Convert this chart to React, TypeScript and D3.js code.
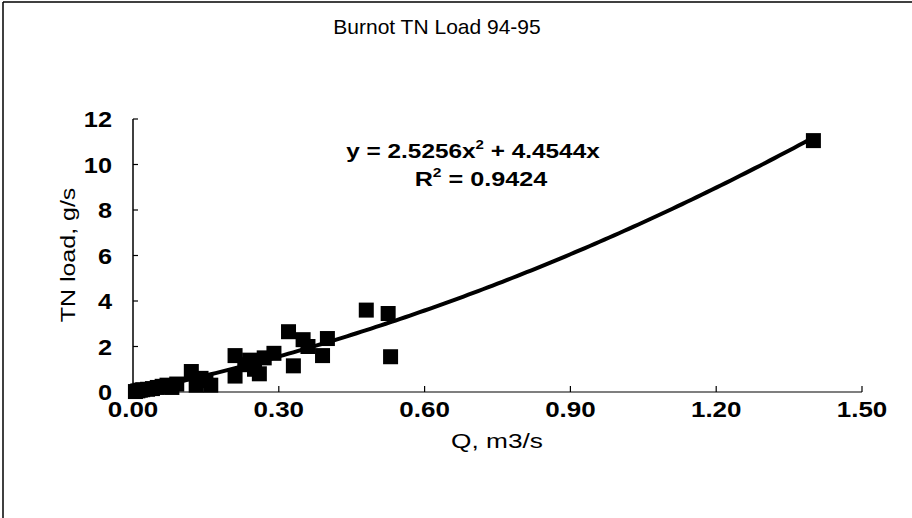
import React from "react";
import * as d3 from "d3";

const qValues = [0.005, 0.01, 0.015, 0.02, 0.03, 0.04, 0.05, 0.06, 0.07, 0.08, 0.09,
  0.12, 0.13, 0.14, 0.15, 0.16, 0.21, 0.21, 0.23, 0.24, 0.25, 0.26, 0.27, 0.29,
  0.32, 0.33, 0.35, 0.36, 0.39, 0.40, 0.48, 0.525, 0.53, 1.40];
const tnLoad = [0.02, 0.05, 0.08, 0.1, 0.12, 0.15, 0.2, 0.25, 0.3, 0.2, 0.35,
  0.9, 0.3, 0.6, 0.5, 0.3, 1.6, 0.7, 1.2, 1.4, 1.0, 0.8, 1.5, 1.7,
  2.65, 1.15, 2.3, 2.0, 1.6, 2.35, 3.6, 3.45, 1.55, 11.05];
const xTicks = [0, 0.3, 0.6, 0.9, 1.2, 1.5];
const yTicks = [0, 2, 4, 6, 8, 10, 12];
const coefA = 2.5256;
const coefB = 4.4544;
const title = "Burnot TN Load 94-95";
const xLabel = "Q, m3/s";
const yLabel = "TN load, g/s";

const font = "'Liberation Sans', Arial, sans-serif";

function SText(props: {
  x: number; y: number; sx?: number; rot?: number; anchor?: string;
  size: number; bold?: boolean; children: React.ReactNode;
}) {
  const { x, y, sx = 1, rot = 0, anchor = "middle", size, bold, children } = props;
  return (
    <text
      transform={`translate(${x},${y}) rotate(${rot}) scale(${sx},1)`}
      textAnchor={anchor}
      fontFamily={font}
      fontSize={size}
      fontWeight={bold ? "bold" : "normal"}
      fill="#000"
    >
      {children}
    </text>
  );
}

export default function App() {
  const x = d3.scaleLinear().domain([0, 1.5]).range([133, 862]);
  const y = d3.scaleLinear().domain([0, 12]).range([392, 119]);
  const fitX = d3.range(0, 1.4001, 0.01);
  const line = d3.line<number>().x((d) => x(d)).y((d) => y(coefA * d * d + coefB * d));
  const ms = 15;
  return (
    <svg width={912} height={518} style={{ position: "absolute", left: 0, top: 0, background: "#fff" }}>
      <rect x={0} y={0} width={912} height={518} fill="#fff" />
      <line x1={3} y1={2} x2={3} y2={518} stroke="#000" strokeWidth={1.5} />
      <line x1={3} y1={2} x2={912} y2={2} stroke="#000" strokeWidth={1.5} />
      <SText x={437} y={34} size={21}>{title}</SText>
      {/* axes */}
      <line x1={x(0)} y1={y(0)} x2={x(1.5)} y2={y(0)} stroke="#000" strokeWidth={1.2} />
      <line x1={x(0)} y1={y(0)} x2={x(0)} y2={y(12)} stroke="#000" strokeWidth={1.5} />
      {xTicks.map((t) => (
        <g key={"xt" + t}>
          <line x1={x(t)} x2={x(t)} y1={y(0)} y2={y(0) - 6} stroke="#000" strokeWidth={1.2} />
          <SText x={x(t)} y={417} size={22} sx={1.18} bold>{t.toFixed(2)}</SText>
        </g>
      ))}
      {yTicks.map((t) => (
        <g key={"yt" + t}>
          <line x1={x(0)} x2={x(0) + 5} y1={y(t)} y2={y(t)} stroke="#000" strokeWidth={1.2} />
          <SText x={112} y={y(t) + 8} size={22} sx={1.15} anchor="end" bold>{t}</SText>
        </g>
      ))}
      <SText x={497} y={448} size={21} sx={1.25}>{xLabel}</SText>
      <SText x={75} y={255} size={20} sx={1.25} rot={-90}>{yLabel}</SText>
      {/* fitted curve */}
      <path d={line(fitX) || ""} fill="none" stroke="#000" strokeWidth={4} />
      {/* points */}
      {qValues.map((q, i) => (
        <rect key={"p" + i} x={x(q) - ms / 2} y={y(tnLoad[i]) - ms / 2} width={ms} height={ms} fill="#000" />
      ))}
      {/* equation */}
      <SText x={473} y={158} size={21} sx={1.16} bold>
        y = 2.5256x<tspan dy={-9} fontSize={13}>2</tspan><tspan dy={9}> + 4.4544x</tspan>
      </SText>
      <SText x={481} y={186} size={21} sx={1.2} bold>
        R<tspan dy={-9} fontSize={13}>2</tspan><tspan dy={9}> = 0.9424</tspan>
      </SText>
    </svg>
  );
}
